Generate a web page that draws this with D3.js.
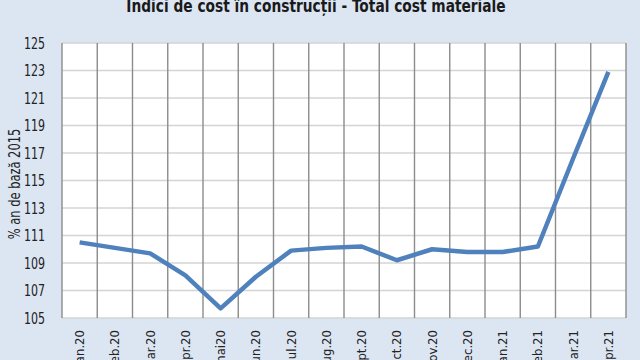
<!DOCTYPE html>
<html><head><meta charset="utf-8">
<script src="https://cdn.jsdelivr.net/npm/d3@7"></script>
<style>
html,body{margin:0;padding:0;background:#dce6f2;}
svg{display:block;}
text{font-family:"DejaVu Sans Condensed","Liberation Sans Narrow","Open Sans",sans-serif;}
</style></head>
<body>
<svg id="c" width="640" height="360"></svg>
<script>
const categories = ["ian.20","feb.20","mar.20","apr.20","mai20","iun.20","iul.20","aug.20","sept.20","oct.20","nov.20","dec.20","ian.21","feb.21","mar.21","apr.21"];
const values = [110.5,110.1,109.7,108.1,105.7,108.0,109.9,110.1,110.2,109.2,110.0,109.8,109.8,110.2,116.6,122.9];
const yTicks = [105,107,109,111,113,115,117,119,121,123,125];
const title = "Indici de cost în construcții -  Total cost materiale";
const yTitle = "% an de bază 2015";

const svg = d3.select("#c");
const L=62, R=626, T=43, B=318;
const x = d3.scaleBand().domain(categories).range([L,R]);
const y = d3.scaleLinear().domain([105,125]).range([B,T]);

svg.append("rect").attr("width",640).attr("height",360).attr("fill","#dce6f2");
svg.append("rect").attr("x",L).attr("y",T).attr("width",R-L).attr("height",B-T).attr("fill","#ffffff");

// horizontal gridlines
svg.append("g").selectAll("line").data(yTicks).join("line")
  .attr("x1",L).attr("x2",R).attr("y1",d=>y(d)).attr("y2",d=>y(d))
  .attr("stroke","#d4d4d4").attr("stroke-width",1.3);

// vertical gridlines at band boundaries
const bounds = categories.map(c=>x(c)).concat([x(categories[categories.length-1])+x.bandwidth()]);
svg.append("g").selectAll("line").data(bounds).join("line")
  .attr("x1",d=>d).attr("x2",d=>d).attr("y1",T).attr("y2",B)
  .attr("stroke","#8c8c8c").attr("stroke-width",1.4);

// y axis
const yAxis = d3.axisLeft(y).tickValues(yTicks).tickSize(0).tickPadding(0).tickFormat(d3.format("d"));
const gy = svg.append("g").attr("transform",`translate(${L-17},0)`).call(yAxis);
gy.select(".domain").remove();
gy.selectAll("text").attr("font-size",15).attr("fill","#222").attr("dy","0.35em")
  .attr("x",0).attr("text-anchor","end").attr("transform","scale(0.82,1)");

// x axis
const xAxis = d3.axisBottom(x).tickSize(0).tickPadding(0);
const gx = svg.append("g").attr("transform",`translate(0,${B})`).call(xAxis);
gx.select(".domain").remove();
gx.selectAll("text").attr("font-size",13).attr("fill","#222")
  .attr("transform","rotate(-90)").attr("text-anchor","end")
  .attr("x",-12).attr("y",0).attr("dy","0.35em");

// line
const line = d3.line().x((d,i)=>x(categories[i])+x.bandwidth()/2).y(d=>y(d));
svg.append("path").datum(values).attr("d",line).attr("fill","none")
  .attr("stroke","#4f81bd").attr("stroke-width",4.5).attr("stroke-linejoin","round");

// titles
svg.append("text").attr("transform","translate(316,12) scale(0.9,1)").attr("text-anchor","middle")
  .attr("font-size",17).attr("font-weight","bold").attr("fill","#1a1a1a").text(title);
svg.append("text").attr("transform","translate(15,184) rotate(-90) scale(0.85,1)").attr("text-anchor","middle")
  .attr("dy","0.35em").attr("font-size",15).attr("fill","#222").text(yTitle);
</script>
</body></html>
